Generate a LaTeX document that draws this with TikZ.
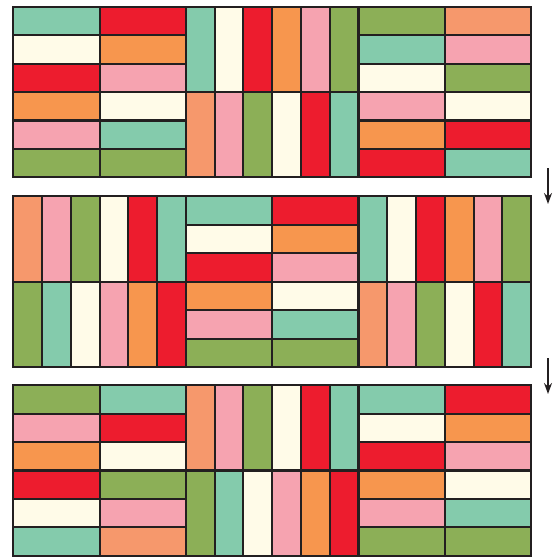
\documentclass[tikz,border=0pt]{standalone}
\usetikzlibrary{arrows.meta}
\definecolor{qT}{HTML}{84CBAC}
\definecolor{qR}{HTML}{ED1C2E}
\definecolor{qC}{HTML}{FFFBE8}
\definecolor{qO}{HTML}{F7964E}
\definecolor{qP}{HTML}{F6A3B0}
\definecolor{qG}{HTML}{8CAF57}
\definecolor{qS}{HTML}{F6986C}
\definecolor{qL}{HTML}{231F20}
\tikzset{
  strip/.style={draw=qL, line width=2.1pt, line join=miter},
  downarrow/.style={draw=qL, line width=1.4pt, -{Stealth[length=11pt,width=8pt]}}
}
\def\BW{172.6}
\def\BH{170.6}
% horizontal block: x0, y0, left column colours, right column colours
\newcommand\hblk[4]{%
  \foreach \c [count=\i from 0] in {#3}{%
    \path[strip, fill=\c] ({#1},{#2+\i*\BH/6}) rectangle ++({\BW/2},{\BH/6});}
  \foreach \c [count=\i from 0] in {#4}{%
    \path[strip, fill=\c] ({#1+\BW/2},{#2+\i*\BH/6}) rectangle ++({\BW/2},{\BH/6});}
}
% vertical block: x0, y0, top half colours, bottom half colours
\newcommand\vblk[4]{%
  \foreach \c [count=\i from 0] in {#3}{%
    \path[strip, fill=\c] ({#1+\i*\BW/6},{#2}) rectangle ++({\BW/6},{\BH/2});}
  \foreach \c [count=\i from 0] in {#4}{%
    \path[strip, fill=\c] ({#1+\i*\BW/6},{#2+\BH/2}) rectangle ++({\BW/6},{\BH/2});}
}
\begin{document}
\begin{tikzpicture}[x=1pt,y=-1pt]
\useasboundingbox (0,0) rectangle (552,557);
% row 1
\hblk{13.3}{6.8}{qT,qC,qR,qO,qP,qG}{qR,qO,qP,qC,qT,qG}
\vblk{185.9}{6.8}{qT,qC,qR,qO,qP,qG}{qS,qP,qG,qC,qR,qT}
\hblk{358.5}{6.8}{qG,qT,qC,qP,qO,qR}{qS,qP,qG,qC,qR,qT}
% row 2
\vblk{13.3}{196.4}{qS,qP,qG,qC,qR,qT}{qG,qT,qC,qP,qO,qR}
\hblk{185.9}{196.4}{qT,qC,qR,qO,qP,qG}{qR,qO,qP,qC,qT,qG}
\vblk{358.5}{196.4}{qT,qC,qR,qO,qP,qG}{qS,qP,qG,qC,qR,qT}
% row 3
\hblk{13.3}{385.2}{qG,qP,qO,qR,qC,qT}{qT,qR,qC,qG,qP,qS}
\vblk{185.9}{385.2}{qS,qP,qG,qC,qR,qT}{qG,qT,qC,qP,qO,qR}
\hblk{358.5}{385.2}{qT,qC,qR,qO,qP,qG}{qR,qO,qP,qC,qT,qG}
% arrows
\coordinate (a1s) at (548,168);
\coordinate (a1e) at (548,204);
\coordinate (a2s) at (548,358);
\coordinate (a2e) at (548,394);
\draw[downarrow] (a1s) -- (a1e);
\draw[downarrow] (a2s) -- (a2e);
\end{tikzpicture}
\end{document}
